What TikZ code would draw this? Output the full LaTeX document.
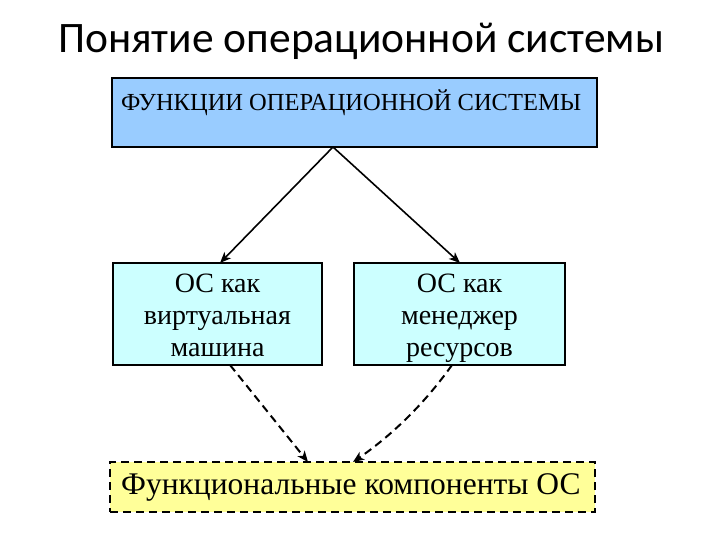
\documentclass[tikz,border=0pt]{standalone}
\usepackage{fontspec}
\setmainfont{Liberation Serif}
\newfontfamily\titlefont{Carlito}
\usetikzlibrary{arrows.meta}
\definecolor{topblue}{HTML}{99CCFF}
\definecolor{midcyan}{HTML}{CCFFFF}
\definecolor{botyellow}{HTML}{FFFF99}
\begin{document}
\begin{tikzpicture}[x=1pt,y=-1pt,
  boxstyle/.style={draw=black, line width=1.6pt},
  midbox/.style={boxstyle, fill=midcyan, minimum width=#1, minimum height=102pt, inner sep=0pt},
  midtext/.style={align=center, font=\fontsize{28}{32}\selectfont, inner sep=0pt},
  arr/.style={-{Stealth[length=11pt,width=9pt,inset=3pt]}, line width=1.6pt},
  darr/.style={-{Stealth[length=11pt,width=9pt,inset=3pt]}, line width=2pt, dash pattern=on 8pt off 5pt}]
\useasboundingbox (0,0) rectangle (720,540);
\node[font=\titlefont\fontsize{43.5}{50}\selectfont, anchor=center] (title) at (361,41) {Понятие операционной системы};
% top box
\node[boxstyle, fill=topblue, minimum width=485pt, minimum height=69pt, inner sep=0pt] (top) at (354.5,112.5) {};
\node[anchor=west, font=\fontsize{24.5}{28}\selectfont, inner sep=0pt] (toptext) at (121,103) {ФУНКЦИИ ОПЕРАЦИОННОЙ СИСТЕМЫ};
\coordinate (topsrc) at (333,147);
% middle boxes
\node[midbox=209pt] (vm) at (217.5,314) {};
\node[midbox=211pt] (rm) at (459.5,314) {};
\node[midtext] (vmtext) at (217.5,318) {\strut ОС как\\\strut виртуальная\\\strut машина};
\node[midtext] (rmtext) at (459.5,318) {\strut ОС как\\\strut менеджер\\\strut ресурсов};
% bottom box
\node[draw=black, line width=2pt, dash pattern=on 8pt off 5pt, fill=botyellow,
  minimum width=485pt, minimum height=50pt, inner sep=0pt] (fc) at (352.5,487) {};
\node[anchor=west, font=\fontsize{31.5}{36}\selectfont, inner sep=0pt] (fctext) at (121,487) {Функциональные компоненты ОС};
% arrows
\coordinate (vmin) at (220,263);
\coordinate (rmin) at (460,263);
\draw[arr] (topsrc) -- (vmin);
\draw[arr] (topsrc) -- (rmin);
\coordinate (vmout) at (230,365);
\coordinate (rmout) at (452,365);
\coordinate (fcl) at (308,462);
\coordinate (fcr) at (353,462);
\draw[darr] (vmout) -- (fcl);
\draw[darr] (rmout) .. controls (420,410) and (385,440) .. (fcr);
\end{tikzpicture}
\end{document}
